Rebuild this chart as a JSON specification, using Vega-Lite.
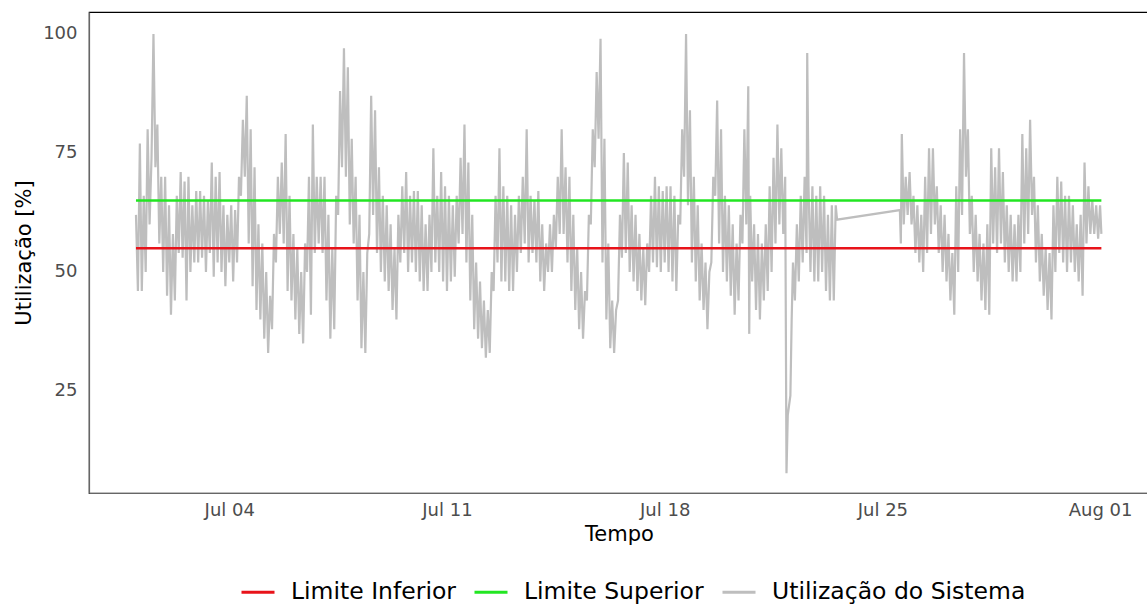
{
"$schema": "https://vega.github.io/schema/vega-lite/v6.json",
"width": 1060, "height": 481,
"autosize": "none",
"padding": {"left": 89, "top": 12, "right": 0, "bottom": 112},
"background": "white",
"config": {"view": {"stroke": "black", "strokeWidth": 1.2}, "font": "DejaVu Sans"},
"layer": [
{
"data": {"values": [
{"t":"2021-07-01T00:00","v":62},{"t":"2021-07-01T01:30","v":46},{"t":"2021-07-01T03:00","v":77},{"t":"2021-07-01T04:30","v":46},{"t":"2021-07-01T06:00","v":66},{"t":"2021-07-01T07:30","v":50},{"t":"2021-07-01T09:00","v":80},{"t":"2021-07-01T10:30","v":60},{"t":"2021-07-01T12:00","v":74},{"t":"2021-07-01T13:30","v":100},{"t":"2021-07-01T15:00","v":72},{"t":"2021-07-01T16:30","v":81},{"t":"2021-07-01T18:00","v":56},{"t":"2021-07-01T19:30","v":70},{"t":"2021-07-01T21:00","v":50},{"t":"2021-07-01T22:30","v":70},
{"t":"2021-07-02T00:00","v":45},{"t":"2021-07-02T01:30","v":64},{"t":"2021-07-02T03:00","v":41},{"t":"2021-07-02T04:30","v":58},{"t":"2021-07-02T06:00","v":44},{"t":"2021-07-02T07:30","v":66},{"t":"2021-07-02T09:00","v":54},{"t":"2021-07-02T10:30","v":71},{"t":"2021-07-02T12:00","v":53},{"t":"2021-07-02T13:30","v":69},{"t":"2021-07-02T15:00","v":44},{"t":"2021-07-02T16:30","v":70},{"t":"2021-07-02T18:00","v":50},{"t":"2021-07-02T19:30","v":64},{"t":"2021-07-02T21:00","v":52},{"t":"2021-07-02T22:30","v":67},
{"t":"2021-07-03T00:00","v":52},{"t":"2021-07-03T01:30","v":67},{"t":"2021-07-03T03:00","v":53},{"t":"2021-07-03T04:30","v":66},{"t":"2021-07-03T06:00","v":50},{"t":"2021-07-03T07:30","v":65},{"t":"2021-07-03T09:00","v":54},{"t":"2021-07-03T10:30","v":73},{"t":"2021-07-03T12:00","v":49},{"t":"2021-07-03T13:30","v":70},{"t":"2021-07-03T15:00","v":52},{"t":"2021-07-03T16:30","v":71},{"t":"2021-07-03T18:00","v":50},{"t":"2021-07-03T19:30","v":64},{"t":"2021-07-03T21:00","v":47},{"t":"2021-07-03T22:30","v":62},
{"t":"2021-07-04T00:00","v":52},{"t":"2021-07-04T01:30","v":64},{"t":"2021-07-04T03:00","v":48},{"t":"2021-07-04T04:30","v":63},{"t":"2021-07-04T06:00","v":52},{"t":"2021-07-04T07:30","v":70},{"t":"2021-07-04T09:00","v":66},{"t":"2021-07-04T10:30","v":82},{"t":"2021-07-04T12:00","v":70},{"t":"2021-07-04T13:30","v":87},{"t":"2021-07-04T15:00","v":56},{"t":"2021-07-04T16:30","v":80},{"t":"2021-07-04T18:00","v":47},{"t":"2021-07-04T19:30","v":72},{"t":"2021-07-04T21:00","v":42},{"t":"2021-07-04T22:30","v":60},
{"t":"2021-07-05T00:00","v":40},{"t":"2021-07-05T01:30","v":56},{"t":"2021-07-05T03:00","v":36},{"t":"2021-07-05T04:30","v":50},{"t":"2021-07-05T06:00","v":33},{"t":"2021-07-05T07:30","v":45},{"t":"2021-07-05T09:00","v":38},{"t":"2021-07-05T10:30","v":58},{"t":"2021-07-05T12:00","v":52},{"t":"2021-07-05T13:30","v":70},{"t":"2021-07-05T15:00","v":58},{"t":"2021-07-05T16:30","v":73},{"t":"2021-07-05T18:00","v":56},{"t":"2021-07-05T19:30","v":79},{"t":"2021-07-05T21:00","v":46},{"t":"2021-07-05T22:30","v":66},
{"t":"2021-07-06T00:00","v":44},{"t":"2021-07-06T01:30","v":58},{"t":"2021-07-06T03:00","v":40},{"t":"2021-07-06T04:30","v":55},{"t":"2021-07-06T06:00","v":37},{"t":"2021-07-06T07:30","v":50},{"t":"2021-07-06T09:00","v":35},{"t":"2021-07-06T10:30","v":56},{"t":"2021-07-06T12:00","v":50},{"t":"2021-07-06T13:30","v":70},{"t":"2021-07-06T15:00","v":41},{"t":"2021-07-06T16:30","v":81},{"t":"2021-07-06T18:00","v":54},{"t":"2021-07-06T19:30","v":70},{"t":"2021-07-06T21:00","v":56},{"t":"2021-07-06T22:30","v":70},
{"t":"2021-07-07T00:00","v":54},{"t":"2021-07-07T01:30","v":70},{"t":"2021-07-07T03:00","v":44},{"t":"2021-07-07T04:30","v":62},{"t":"2021-07-07T06:00","v":36},{"t":"2021-07-07T07:30","v":55},{"t":"2021-07-07T09:00","v":38},{"t":"2021-07-07T10:30","v":66},{"t":"2021-07-07T12:00","v":62},{"t":"2021-07-07T13:30","v":88},{"t":"2021-07-07T15:00","v":72},{"t":"2021-07-07T16:30","v":97},{"t":"2021-07-07T18:00","v":70},{"t":"2021-07-07T19:30","v":93},{"t":"2021-07-07T21:00","v":60},{"t":"2021-07-07T22:30","v":78},
{"t":"2021-07-08T00:00","v":56},{"t":"2021-07-08T01:30","v":70},{"t":"2021-07-08T03:00","v":44},{"t":"2021-07-08T04:30","v":62},{"t":"2021-07-08T06:00","v":34},{"t":"2021-07-08T07:30","v":50},{"t":"2021-07-08T09:00","v":33},{"t":"2021-07-08T10:30","v":54},{"t":"2021-07-08T12:00","v":58},{"t":"2021-07-08T13:30","v":87},{"t":"2021-07-08T15:00","v":62},{"t":"2021-07-08T16:30","v":84},{"t":"2021-07-08T18:00","v":54},{"t":"2021-07-08T19:30","v":72},{"t":"2021-07-08T21:00","v":50},{"t":"2021-07-08T22:30","v":66},
{"t":"2021-07-09T00:00","v":48},{"t":"2021-07-09T01:30","v":64},{"t":"2021-07-09T03:00","v":46},{"t":"2021-07-09T04:30","v":60},{"t":"2021-07-09T06:00","v":42},{"t":"2021-07-09T07:30","v":55},{"t":"2021-07-09T09:00","v":40},{"t":"2021-07-09T10:30","v":62},{"t":"2021-07-09T12:00","v":52},{"t":"2021-07-09T13:30","v":68},{"t":"2021-07-09T15:00","v":54},{"t":"2021-07-09T16:30","v":71},{"t":"2021-07-09T18:00","v":50},{"t":"2021-07-09T19:30","v":66},{"t":"2021-07-09T21:00","v":52},{"t":"2021-07-09T22:30","v":67},
{"t":"2021-07-10T00:00","v":50},{"t":"2021-07-10T01:30","v":67},{"t":"2021-07-10T03:00","v":48},{"t":"2021-07-10T04:30","v":64},{"t":"2021-07-10T06:00","v":46},{"t":"2021-07-10T07:30","v":60},{"t":"2021-07-10T09:00","v":46},{"t":"2021-07-10T10:30","v":62},{"t":"2021-07-10T12:00","v":50},{"t":"2021-07-10T13:30","v":76},{"t":"2021-07-10T15:00","v":52},{"t":"2021-07-10T16:30","v":66},{"t":"2021-07-10T18:00","v":50},{"t":"2021-07-10T19:30","v":71},{"t":"2021-07-10T21:00","v":48},{"t":"2021-07-10T22:30","v":68},
{"t":"2021-07-11T00:00","v":46},{"t":"2021-07-11T01:30","v":66},{"t":"2021-07-11T03:00","v":48},{"t":"2021-07-11T04:30","v":64},{"t":"2021-07-11T06:00","v":49},{"t":"2021-07-11T07:30","v":66},{"t":"2021-07-11T09:00","v":56},{"t":"2021-07-11T10:30","v":74},{"t":"2021-07-11T12:00","v":58},{"t":"2021-07-11T13:30","v":81},{"t":"2021-07-11T15:00","v":52},{"t":"2021-07-11T16:30","v":73},{"t":"2021-07-11T18:00","v":44},{"t":"2021-07-11T19:30","v":62},{"t":"2021-07-11T21:00","v":38},{"t":"2021-07-11T22:30","v":52},
{"t":"2021-07-12T00:00","v":36},{"t":"2021-07-12T01:30","v":48},{"t":"2021-07-12T03:00","v":34},{"t":"2021-07-12T04:30","v":44},{"t":"2021-07-12T06:00","v":32},{"t":"2021-07-12T07:30","v":42},{"t":"2021-07-12T09:00","v":33},{"t":"2021-07-12T10:30","v":50},{"t":"2021-07-12T12:00","v":46},{"t":"2021-07-12T13:30","v":66},{"t":"2021-07-12T15:00","v":52},{"t":"2021-07-12T16:30","v":76},{"t":"2021-07-12T18:00","v":48},{"t":"2021-07-12T19:30","v":68},{"t":"2021-07-12T21:00","v":48},{"t":"2021-07-12T22:30","v":66},
{"t":"2021-07-13T00:00","v":46},{"t":"2021-07-13T01:30","v":64},{"t":"2021-07-13T03:00","v":46},{"t":"2021-07-13T04:30","v":62},{"t":"2021-07-13T06:00","v":50},{"t":"2021-07-13T07:30","v":66},{"t":"2021-07-13T09:00","v":54},{"t":"2021-07-13T10:30","v":70},{"t":"2021-07-13T12:00","v":56},{"t":"2021-07-13T13:30","v":80},{"t":"2021-07-13T15:00","v":52},{"t":"2021-07-13T16:30","v":66},{"t":"2021-07-13T18:00","v":54},{"t":"2021-07-13T19:30","v":65},{"t":"2021-07-13T21:00","v":52},{"t":"2021-07-13T22:30","v":67},
{"t":"2021-07-14T00:00","v":48},{"t":"2021-07-14T01:30","v":60},{"t":"2021-07-14T03:00","v":46},{"t":"2021-07-14T04:30","v":56},{"t":"2021-07-14T06:00","v":50},{"t":"2021-07-14T07:30","v":60},{"t":"2021-07-14T09:00","v":50},{"t":"2021-07-14T10:30","v":62},{"t":"2021-07-14T12:00","v":55},{"t":"2021-07-14T13:30","v":70},{"t":"2021-07-14T15:00","v":58},{"t":"2021-07-14T16:30","v":80},{"t":"2021-07-14T18:00","v":58},{"t":"2021-07-14T19:30","v":72},{"t":"2021-07-14T21:00","v":52},{"t":"2021-07-14T22:30","v":70},
{"t":"2021-07-15T00:00","v":46},{"t":"2021-07-15T01:30","v":62},{"t":"2021-07-15T03:00","v":42},{"t":"2021-07-15T04:30","v":55},{"t":"2021-07-15T06:00","v":38},{"t":"2021-07-15T07:30","v":50},{"t":"2021-07-15T09:00","v":36},{"t":"2021-07-15T10:30","v":46},{"t":"2021-07-15T12:00","v":44},{"t":"2021-07-15T13:30","v":62},{"t":"2021-07-15T15:00","v":60},{"t":"2021-07-15T16:30","v":80},{"t":"2021-07-15T18:00","v":72},{"t":"2021-07-15T19:30","v":92},{"t":"2021-07-15T21:00","v":78},{"t":"2021-07-15T22:30","v":99},
{"t":"2021-07-16T00:00","v":52},{"t":"2021-07-16T01:30","v":78},{"t":"2021-07-16T03:00","v":40},{"t":"2021-07-16T04:30","v":56},{"t":"2021-07-16T06:00","v":34},{"t":"2021-07-16T07:30","v":44},{"t":"2021-07-16T09:00","v":33},{"t":"2021-07-16T10:30","v":42},{"t":"2021-07-16T12:00","v":44},{"t":"2021-07-16T13:30","v":62},{"t":"2021-07-16T15:00","v":53},{"t":"2021-07-16T16:30","v":75},{"t":"2021-07-16T18:00","v":54},{"t":"2021-07-16T19:30","v":73},{"t":"2021-07-16T21:00","v":50},{"t":"2021-07-16T22:30","v":64},
{"t":"2021-07-17T00:00","v":48},{"t":"2021-07-17T01:30","v":62},{"t":"2021-07-17T03:00","v":46},{"t":"2021-07-17T04:30","v":58},{"t":"2021-07-17T06:00","v":44},{"t":"2021-07-17T07:30","v":55},{"t":"2021-07-17T09:00","v":43},{"t":"2021-07-17T10:30","v":56},{"t":"2021-07-17T12:00","v":50},{"t":"2021-07-17T13:30","v":66},{"t":"2021-07-17T15:00","v":52},{"t":"2021-07-17T16:30","v":70},{"t":"2021-07-17T18:00","v":51},{"t":"2021-07-17T19:30","v":68},{"t":"2021-07-17T21:00","v":50},{"t":"2021-07-17T22:30","v":67},
{"t":"2021-07-18T00:00","v":52},{"t":"2021-07-18T01:30","v":68},{"t":"2021-07-18T03:00","v":50},{"t":"2021-07-18T04:30","v":68},{"t":"2021-07-18T06:00","v":48},{"t":"2021-07-18T07:30","v":66},{"t":"2021-07-18T09:00","v":46},{"t":"2021-07-18T10:30","v":62},{"t":"2021-07-18T12:00","v":60},{"t":"2021-07-18T13:30","v":80},{"t":"2021-07-18T15:00","v":70},{"t":"2021-07-18T16:30","v":100},{"t":"2021-07-18T18:00","v":64},{"t":"2021-07-18T19:30","v":84},{"t":"2021-07-18T21:00","v":52},{"t":"2021-07-18T22:30","v":70},
{"t":"2021-07-19T00:00","v":48},{"t":"2021-07-19T01:30","v":64},{"t":"2021-07-19T03:00","v":44},{"t":"2021-07-19T04:30","v":56},{"t":"2021-07-19T06:00","v":42},{"t":"2021-07-19T07:30","v":52},{"t":"2021-07-19T09:00","v":38},{"t":"2021-07-19T10:30","v":50},{"t":"2021-07-19T12:00","v":52},{"t":"2021-07-19T13:30","v":70},{"t":"2021-07-19T15:00","v":66},{"t":"2021-07-19T16:30","v":86},{"t":"2021-07-19T18:00","v":56},{"t":"2021-07-19T19:30","v":80},{"t":"2021-07-19T21:00","v":50},{"t":"2021-07-19T22:30","v":66},
{"t":"2021-07-20T00:00","v":48},{"t":"2021-07-20T01:30","v":64},{"t":"2021-07-20T03:00","v":45},{"t":"2021-07-20T04:30","v":60},{"t":"2021-07-20T06:00","v":41},{"t":"2021-07-20T07:30","v":56},{"t":"2021-07-20T09:00","v":44},{"t":"2021-07-20T10:30","v":62},{"t":"2021-07-20T12:00","v":56},{"t":"2021-07-20T13:30","v":80},{"t":"2021-07-20T15:00","v":60},{"t":"2021-07-20T16:30","v":89},{"t":"2021-07-20T17:15","v":37},{"t":"2021-07-20T18:00","v":66},{"t":"2021-07-20T19:30","v":48},{"t":"2021-07-20T21:00","v":60},{"t":"2021-07-20T22:30","v":42},
{"t":"2021-07-21T00:00","v":58},{"t":"2021-07-21T01:30","v":40},{"t":"2021-07-21T03:00","v":56},{"t":"2021-07-21T04:30","v":44},{"t":"2021-07-21T06:00","v":60},{"t":"2021-07-21T07:30","v":46},{"t":"2021-07-21T09:00","v":68},{"t":"2021-07-21T10:30","v":50},{"t":"2021-07-21T12:00","v":74},{"t":"2021-07-21T13:30","v":56},{"t":"2021-07-21T15:00","v":81},{"t":"2021-07-21T16:30","v":60},{"t":"2021-07-21T18:00","v":76},{"t":"2021-07-21T19:30","v":58},{"t":"2021-07-21T21:00","v":70},{"t":"2021-07-21T22:00","v":7.7},{"t":"2021-07-21T23:00","v":20},
{"t":"2021-07-22T00:00","v":22},{"t":"2021-07-22T01:00","v":24},{"t":"2021-07-22T02:00","v":40},{"t":"2021-07-22T03:00","v":52},{"t":"2021-07-22T04:30","v":44},{"t":"2021-07-22T06:00","v":60},{"t":"2021-07-22T07:30","v":48},{"t":"2021-07-22T09:00","v":66},{"t":"2021-07-22T10:30","v":52},{"t":"2021-07-22T12:00","v":70},{"t":"2021-07-22T13:30","v":54},{"t":"2021-07-22T14:00","v":96},{"t":"2021-07-22T15:00","v":68},{"t":"2021-07-22T16:30","v":50},{"t":"2021-07-22T18:00","v":68},{"t":"2021-07-22T19:30","v":48},{"t":"2021-07-22T21:00","v":66},{"t":"2021-07-22T22:30","v":48},
{"t":"2021-07-23T00:00","v":68},{"t":"2021-07-23T01:30","v":50},{"t":"2021-07-23T03:00","v":66},{"t":"2021-07-23T04:30","v":46},{"t":"2021-07-23T06:00","v":62},{"t":"2021-07-23T07:30","v":44},{"t":"2021-07-23T09:00","v":64},{"t":"2021-07-23T10:30","v":44},{"t":"2021-07-23T12:00","v":64},{"t":"2021-07-23T13:00","v":61},
{"t":"2021-07-25T13:30","v":63},{"t":"2021-07-25T14:15","v":56},{"t":"2021-07-25T15:00","v":79},{"t":"2021-07-25T16:30","v":60},{"t":"2021-07-25T18:00","v":70},{"t":"2021-07-25T19:30","v":62},{"t":"2021-07-25T21:00","v":71},{"t":"2021-07-25T22:30","v":60},
{"t":"2021-07-26T00:00","v":66},{"t":"2021-07-26T01:30","v":54},{"t":"2021-07-26T03:00","v":64},{"t":"2021-07-26T04:30","v":52},{"t":"2021-07-26T06:00","v":62},{"t":"2021-07-26T07:30","v":50},{"t":"2021-07-26T09:00","v":70},{"t":"2021-07-26T10:30","v":54},{"t":"2021-07-26T12:00","v":76},{"t":"2021-07-26T13:30","v":58},{"t":"2021-07-26T15:00","v":76},{"t":"2021-07-26T16:30","v":60},{"t":"2021-07-26T18:00","v":68},{"t":"2021-07-26T19:30","v":54},{"t":"2021-07-26T21:00","v":64},{"t":"2021-07-26T22:30","v":50},
{"t":"2021-07-27T00:00","v":62},{"t":"2021-07-27T01:30","v":48},{"t":"2021-07-27T03:00","v":58},{"t":"2021-07-27T04:30","v":44},{"t":"2021-07-27T06:00","v":54},{"t":"2021-07-27T07:30","v":41},{"t":"2021-07-27T09:00","v":68},{"t":"2021-07-27T10:30","v":50},{"t":"2021-07-27T12:00","v":80},{"t":"2021-07-27T13:30","v":62},{"t":"2021-07-27T15:00","v":96},{"t":"2021-07-27T16:30","v":70},{"t":"2021-07-27T18:00","v":80},{"t":"2021-07-27T19:30","v":58},{"t":"2021-07-27T21:00","v":66},{"t":"2021-07-27T22:30","v":50},
{"t":"2021-07-28T00:00","v":62},{"t":"2021-07-28T01:30","v":48},{"t":"2021-07-28T03:00","v":58},{"t":"2021-07-28T04:30","v":44},{"t":"2021-07-28T06:00","v":56},{"t":"2021-07-28T07:30","v":42},{"t":"2021-07-28T09:00","v":60},{"t":"2021-07-28T10:30","v":41},{"t":"2021-07-28T12:00","v":76},{"t":"2021-07-28T13:30","v":56},{"t":"2021-07-28T15:00","v":72},{"t":"2021-07-28T16:30","v":54},{"t":"2021-07-28T18:00","v":76},{"t":"2021-07-28T19:30","v":56},{"t":"2021-07-28T21:00","v":71},{"t":"2021-07-28T22:30","v":52},
{"t":"2021-07-29T00:00","v":64},{"t":"2021-07-29T01:30","v":50},{"t":"2021-07-29T03:00","v":62},{"t":"2021-07-29T04:30","v":48},{"t":"2021-07-29T06:00","v":60},{"t":"2021-07-29T07:30","v":48},{"t":"2021-07-29T09:00","v":62},{"t":"2021-07-29T10:30","v":50},{"t":"2021-07-29T12:00","v":79},{"t":"2021-07-29T13:30","v":56},{"t":"2021-07-29T15:00","v":76},{"t":"2021-07-29T16:30","v":58},{"t":"2021-07-29T18:00","v":82},{"t":"2021-07-29T19:30","v":62},{"t":"2021-07-29T21:00","v":70},{"t":"2021-07-29T22:30","v":52},
{"t":"2021-07-30T00:00","v":64},{"t":"2021-07-30T01:30","v":48},{"t":"2021-07-30T03:00","v":58},{"t":"2021-07-30T04:30","v":45},{"t":"2021-07-30T06:00","v":55},{"t":"2021-07-30T07:30","v":42},{"t":"2021-07-30T09:00","v":54},{"t":"2021-07-30T10:30","v":40},{"t":"2021-07-30T12:00","v":64},{"t":"2021-07-30T13:30","v":50},{"t":"2021-07-30T15:00","v":70},{"t":"2021-07-30T16:30","v":54},{"t":"2021-07-30T18:00","v":69},{"t":"2021-07-30T19:30","v":52},{"t":"2021-07-30T21:00","v":66},{"t":"2021-07-30T22:30","v":50},
{"t":"2021-07-31T00:00","v":66},{"t":"2021-07-31T01:30","v":52},{"t":"2021-07-31T03:00","v":64},{"t":"2021-07-31T04:30","v":50},{"t":"2021-07-31T06:00","v":60},{"t":"2021-07-31T07:30","v":48},{"t":"2021-07-31T09:00","v":62},{"t":"2021-07-31T10:30","v":45},{"t":"2021-07-31T12:00","v":73},{"t":"2021-07-31T13:30","v":56},{"t":"2021-07-31T15:00","v":68},{"t":"2021-07-31T16:30","v":58},{"t":"2021-07-31T18:00","v":65},{"t":"2021-07-31T19:30","v":58},{"t":"2021-07-31T21:00","v":64},{"t":"2021-07-31T22:30","v":57},
{"t":"2021-08-01T00:00","v":64},{"t":"2021-08-01T01:00","v":58}
]},
"mark": {"type": "line", "strokeWidth": 2.2},
"encoding": {
"x": {"field": "t", "type": "temporal",
 "scale": {"domain": [{"year":2021,"month":6,"date":29,"hours":11,"minutes":45},{"year":2021,"month":8,"date":2,"hours":13,"minutes":45}]},
 "axis": {"title": "Tempo", "values": [{"year":2021,"month":7,"date":4},{"year":2021,"month":7,"date":11},{"year":2021,"month":7,"date":18},{"year":2021,"month":7,"date":25},{"year":2021,"month":8,"date":1}],
  "format": "%b %d", "labelFontSize": 18, "labelColor": "#4d4d4d", "labelFont": "DejaVu Sans", "ticks": false, "grid": false,
  "domainColor": "#666666", "domainWidth": 1.2, "labelPadding": 8, "titleFont": "DejaVu Sans", "titleFontSize": 21, "titleFontWeight": "normal", "titleColor": "black", "titlePadding": 4}},
"y": {"field": "v", "type": "quantitative",
 "scale": {"domain": [3.57, 104.62], "nice": false, "zero": false},
 "axis": {"title": "Utilização [%]", "values": [25, 50, 75, 100], "labelFontSize": 18, "labelColor": "#4d4d4d", "labelFont": "DejaVu Sans", "ticks": false, "grid": false,
  "domainColor": "#666666", "domainWidth": 1.2, "labelPadding": 12, "titleFont": "DejaVu Sans", "titleFontSize": 21, "titleFontWeight": "normal", "titleColor": "black", "titlePadding": 8}},
"color": {"datum": "Utilização do Sistema", "type": "nominal", "title": null,
 "scale": {"domain": ["Limite Inferior", "Limite Superior", "Utilização do Sistema"], "range": ["#e8131a", "#22e622", "#bebebe"]},
 "legend": {"title": null, "orient": "none", "legendX": 151, "legendY": 562, "direction": "horizontal", "symbolType": "stroke", "symbolSize": 1089, "symbolStrokeWidth": 3,
  "labelFontSize": 23.5, "labelFont": "DejaVu Sans", "labelColor": "black", "labelLimit": 500, "columnPadding": 12, "labelOffset": 15}}
}
},
{
"data": {"values": [
{"s":"Limite Inferior","t":"2021-07-01T00:00","v":55},{"s":"Limite Inferior","t":"2021-08-01T01:00","v":55},
{"s":"Limite Superior","t":"2021-07-01T00:00","v":65},{"s":"Limite Superior","t":"2021-08-01T01:00","v":65}
]},
"mark": {"type": "line", "strokeWidth": 2.5},
"encoding": {
"x": {"field": "t", "type": "temporal"},
"y": {"field": "v", "type": "quantitative"},
"color": {"field": "s", "type": "nominal", "title": null}
}
}
]
}
